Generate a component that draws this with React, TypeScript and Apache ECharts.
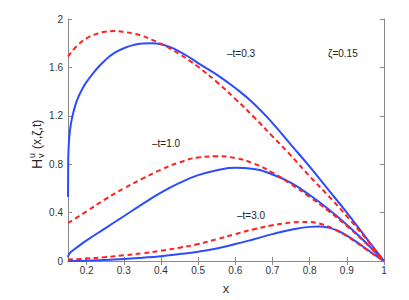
import React, { useEffect, useRef } from "react";
import * as echarts from "echarts";

const xTicks = [0.2, 0.3, 0.4, 0.5, 0.6, 0.7, 0.8, 0.9, 1];

const blue03X = [0.15, 0.1505, 0.151, 0.1525, 0.155, 0.16, 0.17, 0.18, 0.19, 0.2, 0.225, 0.25, 0.275, 0.3, 0.325, 0.35, 0.375, 0.4, 0.425, 0.45, 0.475, 0.5, 0.55, 0.6, 0.65, 0.7, 0.75, 0.8, 0.85, 0.9, 0.95, 1.0];
const blue03Y = [0.53, 0.78, 0.88, 0.98, 1.07, 1.17, 1.29, 1.37, 1.43, 1.48, 1.58, 1.66, 1.72, 1.758, 1.784, 1.797, 1.8, 1.792, 1.767, 1.731, 1.686, 1.636, 1.54, 1.43, 1.3, 1.14, 0.96, 0.78, 0.59, 0.4, 0.2, 0];

const red03X = [0.15, 0.175, 0.2, 0.225, 0.25, 0.275, 0.3, 0.325, 0.35, 0.375, 0.4, 0.425, 0.45, 0.475, 0.5, 0.55, 0.6, 0.65, 0.7, 0.75, 0.8, 0.85, 0.9, 0.95, 1.0];
const red03Y = [1.69, 1.78, 1.84, 1.875, 1.895, 1.9, 1.893, 1.88, 1.86, 1.83, 1.795, 1.755, 1.71, 1.66, 1.605, 1.48, 1.34, 1.19, 1.03, 0.87, 0.7, 0.54, 0.37, 0.19, 0];

const blue10X = [0.15, 0.152, 0.155, 0.16, 0.175, 0.2, 0.25, 0.3, 0.35, 0.4, 0.45, 0.5, 0.55, 0.6, 0.65, 0.7, 0.75, 0.8, 0.85, 0.9, 0.95, 1.0];
const blue10Y = [0.03, 0.05, 0.065, 0.08, 0.115, 0.17, 0.27, 0.37, 0.47, 0.565, 0.645, 0.71, 0.75, 0.77, 0.76, 0.715, 0.645, 0.545, 0.43, 0.3, 0.155, 0];

const red10X = [0.15, 0.2, 0.25, 0.3, 0.35, 0.4, 0.45, 0.5, 0.55, 0.6, 0.65, 0.7, 0.75, 0.8, 0.85, 0.9, 0.95, 1.0];
const red10Y = [0.314, 0.41, 0.51, 0.6, 0.68, 0.755, 0.815, 0.855, 0.865, 0.85, 0.805, 0.73, 0.635, 0.53, 0.415, 0.29, 0.15, 0];

const blue30X = [0.15, 0.2, 0.25, 0.3, 0.35, 0.4, 0.45, 0.5, 0.55, 0.6, 0.65, 0.7, 0.75, 0.8, 0.825, 0.85, 0.875, 0.9, 0.925, 0.95, 0.975, 1.0];
const blue30Y = [0, 0.003, 0.008, 0.016, 0.027, 0.04, 0.057, 0.077, 0.104, 0.14, 0.18, 0.222, 0.258, 0.282, 0.285, 0.276, 0.25, 0.21, 0.16, 0.105, 0.05, 0];

const red30X = [0.15, 0.2, 0.25, 0.3, 0.35, 0.4, 0.45, 0.5, 0.55, 0.6, 0.65, 0.7, 0.75, 0.775, 0.8, 0.825, 0.85, 0.875, 0.9, 0.925, 0.95, 0.975, 1.0];
const red30Y = [0.012, 0.02, 0.032, 0.047, 0.064, 0.085, 0.11, 0.14, 0.18, 0.222, 0.262, 0.295, 0.318, 0.323, 0.322, 0.31, 0.285, 0.25, 0.205, 0.155, 0.1, 0.05, 0];

const BLUE = "#2b4cff";
const RED = "#ff2020";
const AXIS = "#8a8a8a";
const FONT = "Liberation Sans, Arial, sans-serif";

const pairs = (xs: number[], ys: number[]) => xs.map((x, i) => [x, ys[i]]);

const line = (xs: number[], ys: number[], color: string, dashed: boolean) => ({
  type: "line",
  data: pairs(xs, ys),
  showSymbol: false,
  symbol: "none",
  smooth: 0.5,
  lineStyle: { color, width: 2, type: dashed ? [5, 3.5] : "solid" },
  xAxisIndex: 0,
  yAxisIndex: 0,
  z: dashed ? 3 : 2,
});

export default function App() {
  const ref = useRef<HTMLDivElement>(null);
  useEffect(() => {
    if (!ref.current) return;
    const chart = echarts.init(ref.current, null, { renderer: "svg" });
    const axisCommon = {
      axisLine: { show: true, lineStyle: { color: AXIS, width: 1 } },
      axisTick: { show: true, inside: true, length: 4, lineStyle: { color: AXIS } },
      splitLine: { show: false },
    };
    chart.setOption({
      animation: false,
      backgroundColor: "#ffffff",
      grid: { left: 68, right: 25, top: 19, bottom: 37 },
      xAxis: [
        {
          type: "value",
          min: 0.15,
          max: 1,
          position: "bottom",
          ...axisCommon,
          axisTick: { ...axisCommon.axisTick, customValues: xTicks },
          axisLabel: {
            customValues: xTicks,
            color: "#333",
            fontSize: 10,
            fontFamily: FONT,
            margin: 4,
            formatter: (v: number) => String(Math.round(v * 10) / 10),
          },
          name: "x",
          nameLocation: "middle",
          nameGap: 21,
          nameTextStyle: { color: "#333", fontSize: 13, fontFamily: FONT },
        },
        {
          type: "value",
          min: 0.15,
          max: 1,
          position: "top",
          ...axisCommon,
          axisTick: { ...axisCommon.axisTick, customValues: xTicks },
          axisLabel: { show: false, customValues: xTicks },
        },
      ],
      yAxis: [
        {
          type: "value",
          min: 0,
          max: 2,
          interval: 0.4,
          position: "left",
          ...axisCommon,
          axisLabel: { color: "#333", fontSize: 10, fontFamily: FONT, margin: 5 },
        },
        {
          type: "value",
          min: 0,
          max: 2,
          interval: 0.4,
          position: "right",
          ...axisCommon,
          axisLabel: { show: false },
        },
      ],
      series: [
        line(blue03X, blue03Y, BLUE, false),
        line(blue10X, blue10Y, BLUE, false),
        line(blue30X, blue30Y, BLUE, false),
        line(red03X, red03Y, RED, true),
        line(red10X, red10Y, RED, true),
        line(red30X, red30Y, RED, true),
      ],
      graphic: [
        {
          type: "group",
          x: 37,
          y: 169,
          rotation: Math.PI / 2,
          children: [
            { type: "text", x: 0, y: 0, style: { text: "H", font: `14px ${FONT}`, fill: "#222", align: "left", verticalAlign: "middle" } },
            { type: "text", x: 11, y: -5, style: { text: "u", font: `9px ${FONT}`, fill: "#222", align: "left", verticalAlign: "middle" } },
            { type: "text", x: 11, y: 4, style: { text: "v", font: `9px ${FONT}`, fill: "#222", align: "left", verticalAlign: "middle" } },
            { type: "text", x: 20, y: 0, style: { text: "(x,ζ,t)", font: `12px ${FONT}`, fill: "#222", align: "left", verticalAlign: "middle" } },
          ],
        },
        { type: "text", x: 227, y: 53, style: { text: "–t=0.3", font: `10px ${FONT}`, fill: "#222", verticalAlign: "middle" } },
        { type: "text", x: 328, y: 53, style: { text: "ζ=0.15", font: `10px ${FONT}`, fill: "#222", verticalAlign: "middle" } },
        { type: "text", x: 152, y: 143, style: { text: "–t=1.0", font: `10px ${FONT}`, fill: "#222", verticalAlign: "middle" } },
        { type: "text", x: 237, y: 215, style: { text: "–t=3.0", font: `10px ${FONT}`, fill: "#222", verticalAlign: "middle" } },
      ],
    });
    return () => chart.dispose();
  }, []);
  return <div ref={ref} style={{ width: 409, height: 300, position: "absolute", left: 0, top: 0 }} />;
}
